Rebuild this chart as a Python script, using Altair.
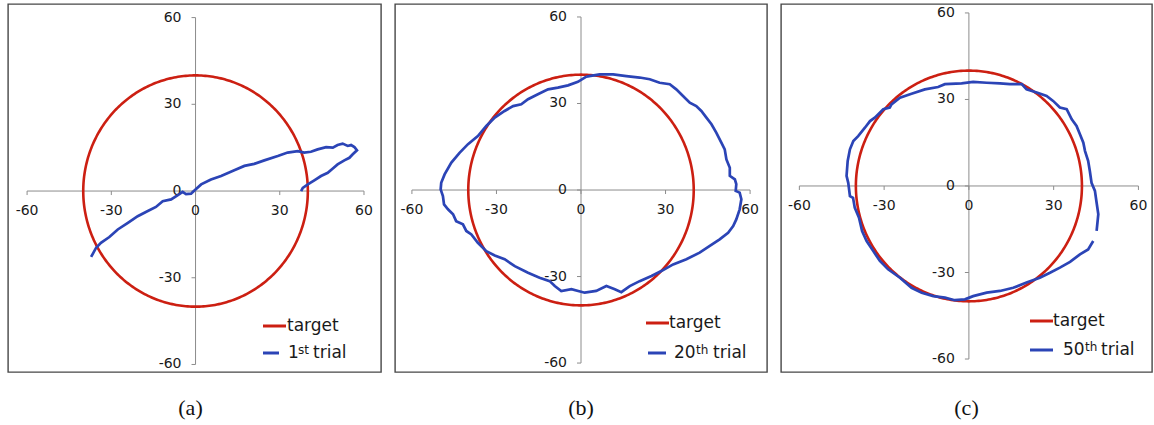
import altair as alt
import numpy as np
import pandas as pd

# Axis ticks shared by all three panels
TICKS = [-60, -30, 0, 30, 60]
TICK_LABELS = ["-60", "-30", "0", "30", "60"]

# Target trajectory: circle of radius 40 around the origin
TARGET_RADIUS = 40

# 1st trial
trial1_x = [37.6, 38.2, 40.0, 42.3, 44.7, 47.1, 48.9, 50.6, 53.0, 54.8,
            56.0, 57.5, 56.6, 55.4, 54.2, 52.4, 50.6, 48.9, 46.5, 43.5,
            41.1, 38.7, 36.4, 32.8, 29.3, 24.5, 20.9, 17.4, 13.8, 9.1,
            5.5, 2.0, -0.4, -1.6, -3.4, -4.6, -6.3, -8.7, -11.7, -14.1,
            -17.0, -20.6, -24.1, -27.7, -30.7, -33.7, -35.4, -37.2]
trial1_y = [0.0, 1.1, 2.3, 3.7, 5.2, 6.3, 7.8, 9.2, 10.6, 11.5,
            12.7, 14.1, 15.2, 15.9, 15.6, 16.4, 15.9, 15.0, 15.2, 14.4,
            13.6, 13.3, 13.8, 13.3, 12.1, 10.6, 9.4, 8.7, 7.2, 5.2,
            4.0, 2.3, 0.2, -0.9, -1.1, -0.3, -1.4, -2.9, -3.5, -5.5,
            -6.9, -8.7, -11.0, -13.3, -15.9, -17.9, -19.6, -22.8]

# 20th trial
trial20_x = [1.9, -1.1, -4.6, -8.2, -11.7, -15.3, -18.8, -21.2, -24.1, -27.1,
             -30.6, -33.6, -36.6, -40.1, -43.1, -46.0, -48.4, -49.6, -49.8, -49.0,
             -48.6, -47.2, -45.4, -44.3, -41.9, -40.7, -38.9, -36.6, -33.6, -30.6,
             -27.1, -23.5, -18.8, -14.7, -11.1, -9.3, -7.0, -3.4, 1.3, 5.4,
             9.0, 12.0, 14.3, 17.3, 20.8, 25.0, 28.5, 32.7, 37.4, 42.1,
             45.7, 49.2, 52.2, 54.0, 55.1, 56.3, 56.9, 56.3, 54.9, 55.1,
             54.6, 52.8, 52.8, 51.6, 51.0, 49.8, 48.0, 46.3, 44.5, 42.7,
             40.9, 38.6, 36.2, 33.8, 31.5, 27.9, 24.4, 20.8, 16.1, 11.4,
             6.6, 1.9]
trial20_y = [39.3, 37.5, 36.3, 35.5, 34.9, 33.2, 31.5, 29.7, 29.1, 27.4,
             25.1, 22.2, 18.7, 15.9, 12.9, 9.5, 5.4, 2.5, 0.2, -2.1,
             -5.0, -6.7, -8.4, -10.8, -11.9, -14.2, -15.4, -18.3, -21.2, -22.7,
             -24.0, -26.4, -28.7, -30.4, -31.6, -33.3, -35.0, -34.4, -35.6, -35.0,
             -33.3, -34.4, -35.4, -33.3, -31.6, -29.8, -28.1, -25.8, -24.0, -21.7,
             -19.4, -17.1, -14.8, -12.5, -10.2, -6.7, -3.2, -0.9, -0.3, 2.0,
             3.7, 4.9, 7.7, 10.6, 14.1, 16.4, 19.9, 22.8, 25.1, 27.4,
             29.1, 30.3, 32.6, 34.9, 36.7, 37.2, 38.4, 39.0, 39.5, 40.1,
             40.1, 39.3]

# 50th trial
trial50_x = [45.2, 45.8, 45.2, 44.6, 43.4, 42.8, 42.2, 41.1, 40.5, 39.3,
             38.1, 36.4, 34.6, 32.2, 29.8, 27.5, 24.0, 20.4, 18.7, 14.5,
             11.0, 6.3, 1.5, -2.6, -8.5, -10.9, -15.6, -20.3, -24.4, -27.4,
             -28.0, -30.3, -33.3, -35.0, -36.8, -39.2, -40.9, -42.1, -42.9, -43.3,
             -42.7, -42.1, -41.0, -40.4, -38.9, -37.8, -36.2, -33.9, -31.5, -28.6,
             -24.4, -20.3, -16.7, -12.6, -8.5, -5.0, -1.4, 1.5, 6.3, 11.0,
             15.7, 20.4, 25.1, 28.7, 32.2, 35.8, 39.3, 42.2, 44.0]
trial50_y = [-15.6, -9.8, -5.8, -1.7, 1.1, 5.2, 8.7, 12.1, 15.0, 17.9,
             20.8, 23.1, 26.6, 27.2, 29.5, 31.2, 32.4, 33.5, 35.3, 35.3,
             35.6, 35.8, 36.1, 35.6, 35.3, 34.3, 33.5, 32.0, 30.6, 28.3,
             27.2, 26.6, 23.7, 22.5, 20.2, 17.3, 15.6, 12.7, 8.7, 3.5,
             1.1, -3.5, -4.1, -7.5, -11.0, -15.6, -19.1, -22.5, -26.0, -28.9,
             -31.8, -35.3, -37.0, -38.2, -38.7, -39.6, -39.3, -38.2, -37.0, -36.4,
             -35.3, -33.5, -31.8, -30.1, -28.3, -26.3, -23.7, -22.0, -19.1]

CAPTIONS = ["(a)", "(b)", "(c)"]
TRIAL_NUMBERS = ["1", "20", "50"]
TRIAL_SUFFIXES = ["st", "th", "th"]

RED = "#CC1F12"
BLUE = "#2B44B6"
AXIS_GRAY = "#8C8C8C"
TEXT = "#1A1A1A"
SANS = "DejaVu Sans"

theta = np.linspace(0, 2 * np.pi, 361)
circle_df = pd.DataFrame({
    "x": TARGET_RADIUS * np.cos(theta),
    "y": TARGET_RADIUS * np.sin(theta),
    "i": np.arange(theta.size),
})
tick_df = pd.DataFrame({"t": TICKS, "label": TICK_LABELS, "zero": 0})
axis_df = pd.DataFrame({
    "x1": [TICKS[0], 0], "x2": [TICKS[-1], 0],
    "y1": [0, TICKS[0]], "y2": [0, TICKS[-1]],
})
one_row = pd.DataFrame({"k": [0]})


def panel(tx, ty, xdom, ydom, width, height, key, number, suffix, caption, cap_dx):
    xs = alt.Scale(domain=xdom, nice=False, zero=False)
    ys = alt.Scale(domain=ydom, nice=False, zero=False)

    def X(f):
        return alt.X(f, type="quantitative", scale=xs, axis=None)

    def Y(f):
        return alt.Y(f, type="quantitative", scale=ys, axis=None)

    axes = alt.Chart(axis_df).mark_rule(color=AXIS_GRAY, strokeWidth=1).encode(
        x=X("x1"), x2="x2:Q", y=Y("y1"), y2="y2:Q")
    xticks = alt.Chart(tick_df).mark_rule(color=AXIS_GRAY, strokeWidth=1, y2Offset=4).encode(
        x=X("t"), y=Y("zero"), y2="zero:Q")
    yticks = alt.Chart(tick_df).mark_rule(color=AXIS_GRAY, strokeWidth=1, x2Offset=-4).encode(
        y=Y("t"), x=X("zero"), x2="zero:Q")
    xlabels = alt.Chart(tick_df).mark_text(
        font=SANS, fontSize=14, color=TEXT, dy=20, baseline="middle", align="center"
    ).encode(x=X("t"), y=Y("zero"), text="label:N")
    ylabels = alt.Chart(tick_df).mark_text(
        font=SANS, fontSize=14, color=TEXT, dx=-14, baseline="middle", align="right"
    ).encode(x=X("zero"), y=Y("t"), text="label:N")

    target = alt.Chart(circle_df).mark_line(color=RED, strokeWidth=2.6).encode(
        x=X("x"), y=Y("y"), order="i:Q")
    trial_df = pd.DataFrame({"x": tx, "y": ty, "i": range(len(tx))})
    trial = alt.Chart(trial_df).mark_line(color=BLUE, strokeWidth=2.7).encode(
        x=X("x"), y=Y("y"), order="i:Q")

    # Legend drawn inside the frame, bottom right
    (r0, r1, ry), (b0, b1, by), tgt_x, num_x, suf_x, trial_x = key
    red_key = alt.Chart(one_row).mark_rule(color=RED, strokeWidth=3).encode(
        x=alt.value(r0), x2=alt.value(r1), y=alt.value(ry))
    blue_key = alt.Chart(one_row).mark_rule(color=BLUE, strokeWidth=3).encode(
        x=alt.value(b0), x2=alt.value(b1), y=alt.value(by))
    legend_font = dict(font=SANS, color=TEXT, align="left")
    t_target = alt.Chart(one_row).mark_text(
        text="target", fontSize=17, baseline="middle", **legend_font
    ).encode(x=alt.value(tgt_x), y=alt.value(ry))
    t_num = alt.Chart(one_row).mark_text(
        text=number, fontSize=17, baseline="middle", **legend_font
    ).encode(x=alt.value(num_x), y=alt.value(by))
    t_suf = alt.Chart(one_row).mark_text(
        text=suffix, fontSize=12, baseline="alphabetic", **legend_font
    ).encode(x=alt.value(suf_x), y=alt.value(by + 1))
    t_trial = alt.Chart(one_row).mark_text(
        text="trial", fontSize=17, baseline="middle", **legend_font
    ).encode(x=alt.value(trial_x), y=alt.value(by))

    return alt.layer(
        axes, xticks, yticks, xlabels, ylabels, target, trial,
        red_key, blue_key, t_target, t_num, t_suf, t_trial,
    ).properties(
        width=width,
        height=height,
        title=alt.TitleParams(
            caption, orient="bottom", anchor="middle", font="Liberation Serif",
            fontSize=22, fontWeight="normal", color="#111111", offset=26, dx=cap_dx,
        ),
    )


pa = panel(trial1_x, trial1_y, [-66.8, 66.06], [-62.6, 64.7], 373, 368,
           ((255, 278, 322), (255, 271, 349), 279, 280, 290, 305),
           TRIAL_NUMBERS[0], TRIAL_SUFFIXES[0], CAPTIONS[0], -4)
pb = panel(trial20_x, trial20_y, [-66.0, 66.0], [-63.1, 64.5], 372, 368,
           ((251, 274, 319), (253, 271, 349), 274, 279, 301, 318),
           TRIAL_NUMBERS[1], TRIAL_SUFFIXES[1], CAPTIONS[1], 0)
pc = panel(trial50_x, trial50_y, [-66.5, 64.8], [-64.5, 63.1], 371, 368,
           ((249, 272, 317), (249, 272, 346), 272, 282, 304, 320),
           TRIAL_NUMBERS[2], TRIAL_SUFFIXES[2], CAPTIONS[2], 0)

chart = alt.hconcat(pa, pb, pc, spacing=12).properties(
    padding={"left": 7, "top": 3, "right": 0, "bottom": 0},
    background="white",
).configure_view(stroke="#474747", strokeWidth=1.4)

chart.save("out.html", embed_options={"renderer": "svg", "actions": False})
